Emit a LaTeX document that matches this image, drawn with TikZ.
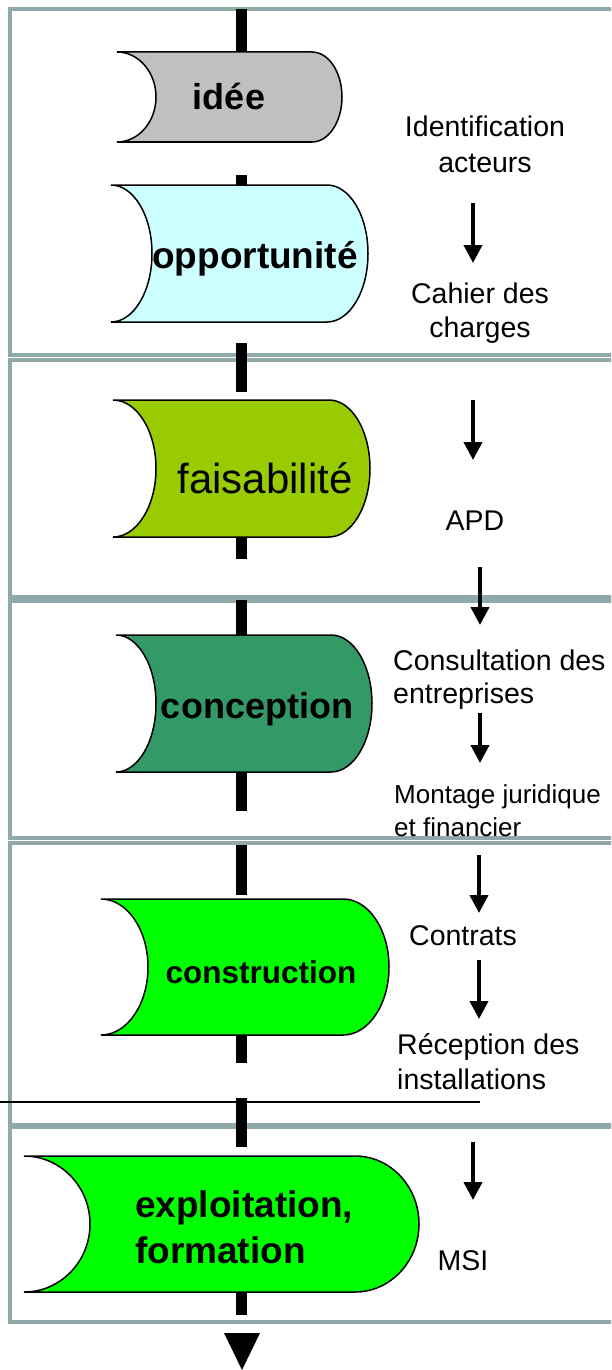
\documentclass[tikz,border=0pt]{standalone}
\usepackage{fontspec}
\setmainfont{Liberation Sans}
\usetikzlibrary{arrows.meta,calc}

\definecolor{framegray}{HTML}{8FA8A8}
\definecolor{ideegray}{HTML}{C0C0C0}
\definecolor{oppcyan}{HTML}{CCFFFF}
\definecolor{faisgreen}{HTML}{99CC00}
\definecolor{concgreen}{HTML}{339966}
\definecolor{consgreen}{HTML}{00FF00}

\tikzset{
  frame/.style={draw=framegray, line width=4pt},
  spine/.style={line width=11pt},
  stageline/.style={draw=black, line width=1.5pt},
  flow/.style={line width=4pt, -{Triangle[width=18pt,length=18pt]}},
  note/.style={font=\fontsize{28.5}{35}\selectfont, inner sep=0pt, anchor=base},
  stagetext/.style={font=\bfseries\fontsize{36}{46}\selectfont, inner sep=0pt, anchor=base},
}

\begin{document}
\begin{tikzpicture}[x=1pt,y=-1pt]
\useasboundingbox (0,0) rectangle (611,1370);
\clip (0,0) rectangle (611,1370);

% phase frames
\foreach \t/\b in {9/355, 360/597, 601/838, 843/1125, 1127/1322}
  \draw[frame] (625,\t) -- (10,\t) -- (10,\b) -- (625,\b);
\draw[line width=1.5pt] (0,1102) -- (480,1102);

% stages
\foreach \L/\c/\R/\a/\T/\B/\col/\nm in {
    117/39/312/30/52/142/ideegray/idee,
    111/41/327/41/185/322/oppcyan/opp,
    113/43/329/41/400/537/faisgreen/fais,
    116/40/331/41/635/772/concgreen/conc,
    101/47/343/46/899/1035/consgreen/cons,
    24/66/355/64/1156/1292/consgreen/expl}{
  \pgfmathsetmacro\h{(\B-\T)/2}
  \draw[stageline, fill=\col] (\L,\T) -- (\R,\T)
    arc[start angle=-90, end angle=90, x radius=\a, y radius=\h]
    -- (\L,\B) arc[start angle=90, end angle=-90, x radius=\c, y radius=\h] -- cycle;
  \coordinate (\nm-top) at (241,\T);
  \coordinate (\nm-bot) at (241,\B);
}

\node[stagetext] (idee) at (229,110) {idée};
\node[stagetext, font=\bfseries\fontsize{37}{46}\selectfont] (opportunite) at (255,268) {opportunité};
\node[stagetext, font=\fontsize{42}{46}\selectfont] (faisabilite) at (265,493) {faisabilité};
\node[stagetext] (conception) at (257,718) {conception};
\node[stagetext, font=\bfseries\fontsize{31.5}{40}\selectfont] (construction) at (261,983) {construction};
\node[stagetext, font=\bfseries\fontsize{37}{46}\selectfont, anchor=base west, align=left] (exploitation) at (135,1263) {exploitation,\\formation};

% spine
\coordinate (entry) at (241,9);
\draw[spine] (entry) -- (idee-top);
\draw[spine] ($(opp-top)+(0,-10)$) -- (opp-top);
\draw[spine] ($(opp-bot)+(0,21)$) -- ($(fais-top)+(0,-8)$);
\draw[spine] (fais-bot) -- ++(0,22);
\draw[spine] ($(conc-top)+(0,-35)$) -- (conc-top);
\draw[spine] (conc-bot) -- ++(0,39);
\draw[spine] ($(cons-top)+(0,-54)$) -- ($(cons-top)+(0,-4)$);
\draw[spine] (cons-bot) -- ++(0,28);
\draw[spine] ($(expl-top)+(0,-58)$) -- ($(expl-top)+(0,-9)$);
\draw[spine] (expl-bot) -- ++(0,23);
\fill (224,1333) -- (260,1333) -- (242,1370) -- cycle;

% deliverables (multi-line: base = last line)
\node[note, align=center, font=\fontsize{28.5}{36}\selectfont] (acteurs) at (485,172) {Identification\\acteurs};
\node[note, align=center, font=\fontsize{28.5}{34}\selectfont] (cahier) at (480,337) {Cahier des\\charges};
\node[note] (apd) at (475,530) {APD};
\node[note, anchor=base west, align=left, font=\fontsize{28.5}{33}\selectfont] (consult) at (393,703) {Consultation des\\entreprises};
\node[note, anchor=base west, align=left, font=\fontsize{26}{33}\selectfont] (montage) at (394,836) {Montage juridique\\et financier};
\node[note, anchor=base west] (contrats) at (409,945) {Contrats};
\node[note, anchor=base west, align=left] (reception) at (397,1089) {Réception des\\installations};
\node[note] (msi) at (463,1270) {MSI};

\foreach \x/\ya/\yb [count=\i] in {473/203/263, 473/400/460, 480/567/625,
    480/713/763, 479/855/913, 479/960/1019, 473/1142/1200}
  \draw[flow] (\x,\ya) coordinate (arr\i-s) -- (\x,\yb) coordinate (arr\i-e);
\end{tikzpicture}
\end{document}
